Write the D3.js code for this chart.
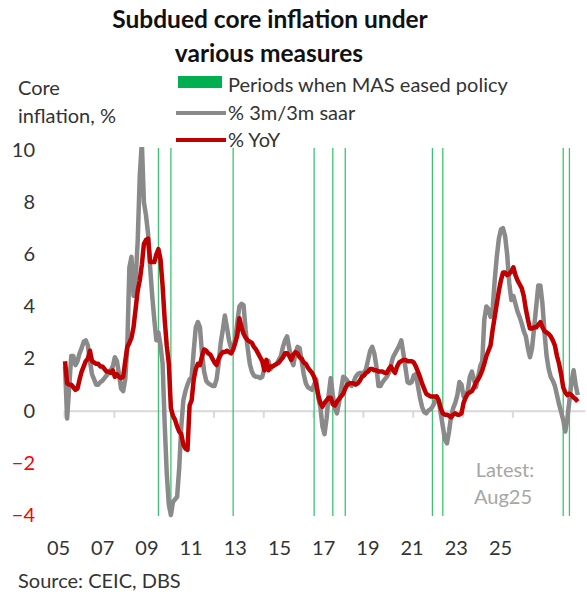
<!DOCTYPE html>
<html>
<head>
<meta charset="utf-8">
<script src="https://cdn.jsdelivr.net/npm/d3@7"></script>
<style>
  body { margin: 0; background: #fff; }
  svg { display: block; }
  text { font-family: "Lato", "Carlito", "Open Sans", sans-serif; fill: #333; }
  .title { font-weight: bold; font-size: 24.5px; fill: #111; }
  .lbl { font-size: 20px; }
  .axis text { font-size: 20px; }
</style>
</head>
<body>
<div id="chart"></div>
<script>
// monthly series, Jan 2005 .. Aug 2025
var startYear = 2005;

var yoy = [
  1.9, 1.05, 1.0, 1.0, 0.9, 0.8, 0.85, 1.2, 1.5, 1.7, 1.9, 2.0,
  2.3, 1.9, 1.85, 1.8, 1.8, 1.7, 1.7, 1.6, 1.5, 1.5, 1.45, 1.55,
  1.3, 1.4, 1.3, 1.25, 1.3, 1.9, 2.45, 2.6, 2.8, 3.2, 3.9, 4.6,
  5.0, 5.6, 6.4, 6.55, 6.6, 5.7, 5.7, 5.7, 6.0, 6.2, 5.8, 4.8,
  3.5, 2.5, 1.8, 0.1, -0.2, -0.35, -0.6, -0.8, -0.9, -1.3, -1.45, -1.5,
  0.2, 0.4, 1.2, 1.6, 1.8, 1.75, 2.1, 2.35, 2.3, 2.2, 2.15, 2.0,
  1.85, 1.75, 2.0, 2.15, 2.25, 2.25, 2.3, 2.25, 2.2, 2.35, 2.6, 2.9,
  3.55, 3.2, 2.95, 2.8, 2.7, 2.65, 2.6, 2.45, 2.35, 2.2, 2.05, 1.9,
  1.55, 1.95, 1.55, 1.7, 1.7, 1.75, 1.8, 1.85, 1.95, 2.05, 2.2, 2.2,
  2.1, 1.95, 2.15, 2.25, 2.2, 2.05, 2.0, 1.85, 1.8, 1.65, 1.55, 1.45,
  1.3, 1.0, 0.6, 0.3, 0.15, 0.3, 0.4, 0.5, 0.5, 0.25, 0.2, 0.35,
  0.45, 0.55, 0.65, 0.85, 1.0, 1.05, 1.05, 1.05, 1.0, 1.05, 1.15, 1.3,
  1.35, 1.45, 1.5, 1.6, 1.6, 1.55, 1.55, 1.5, 1.5, 1.5, 1.45, 1.45,
  1.6, 1.7, 1.55, 1.45, 1.7, 1.85, 1.9, 1.95, 1.95, 1.9, 1.9, 1.9,
  1.85, 1.7, 1.5, 1.3, 1.05, 0.85, 0.65, 0.6, 0.55, 0.55, 0.55, 0.55,
  0.4, 0.1, -0.1, -0.15, -0.15, -0.2, -0.25, -0.15, -0.1, -0.15, -0.15, -0.1,
  0.3, 0.5, 0.65, 0.7, 0.75, 0.9, 1.1, 1.2, 1.35, 1.55, 1.8, 2.1,
  2.3, 2.5, 3.1, 3.6, 4.1, 4.6, 5.0, 5.3, 5.3, 5.2, 5.25, 5.35,
  5.5, 5.2, 5.0, 4.85, 4.7, 4.4, 3.9, 3.5, 3.15, 3.15, 3.2, 3.2,
  3.3, 3.4, 3.2, 3.05, 3.0, 2.95, 2.85, 2.7, 2.5, 2.1, 1.8, 1.4,
  0.9, 0.7, 0.6, 0.65, 0.6, 0.5, 0.45, 0.35
];

var saar = [
  1.7, -0.3, 0.9, 2.1, 2.1, 1.75, 1.9, 2.2, 2.4, 2.65, 2.7, 2.5,
  1.9, 1.4, 1.2, 1.0, 1.0, 1.1, 1.15, 1.25, 1.35, 1.45, 1.55, 1.7,
  2.05, 1.9, 1.4, 0.85, 0.75, 1.2, 2.5, 5.5, 5.9, 4.4, 5.0, 6.5,
  9.0, 10.3, 8.0, 7.5, 6.8, 5.5, 4.4, 3.5, 2.7, 3.0, 2.5, 1.8,
  -0.5, -2.4, -3.6, -4.0, -3.5, -3.4, -3.3, -2.2, -0.6, 0.4, 0.75, 1.0,
  1.2, 1.3, 2.3, 3.2, 3.4, 3.2, 2.2, 1.5, 1.15, 1.05, 1.0, 0.95,
  0.95, 1.2, 1.8, 2.6, 3.1, 3.65, 3.2, 2.7, 2.4, 2.4, 2.7, 3.4,
  4.0, 4.1, 4.05, 3.1, 2.4, 1.8, 1.5, 1.35, 1.3, 1.3, 1.25, 1.3,
  1.6, 1.85, 1.9, 1.6, 1.7, 1.75, 1.8, 1.95, 2.1, 2.45, 2.7, 2.85,
  2.4, 1.95, 1.75, 2.2, 2.45, 2.4, 1.9, 1.4, 1.05, 0.9, 0.85, 0.8,
  1.0, 1.2, 0.5, 0.15, -0.6, -0.9, -0.3, 0.6, 1.25, 0.6, 0.1, -0.1,
  0.3, 0.8, 1.3, 1.25, 1.15, 1.0, 0.95, 1.1, 1.3, 1.4, 1.45, 1.45,
  1.45, 1.6, 1.95, 2.3, 2.45, 2.2, 1.7, 0.95, 0.95, 1.1, 1.2, 1.3,
  1.45, 1.75, 2.05, 2.2, 2.35, 2.5, 2.7, 2.2, 1.65, 1.1, 1.05, 1.1,
  1.35, 1.4, 0.95, 0.5, 0.15, -0.05, -0.1, 0.0, 0.05, 0.15, 0.3, 0.55,
  0.4, -0.1, -0.6, -1.1, -1.25, -0.8, -0.2, 0.1, 0.3, 0.6, 1.1, 1.0,
  0.55, 0.6, 0.75, 1.3, 1.5, 1.2, 0.9, 1.3, 1.7, 1.9, 3.5, 4.0,
  3.9, 3.6, 3.9, 5.0, 5.9, 6.6, 6.95, 7.0, 6.7, 6.0, 4.9, 4.25,
  4.4, 4.1, 3.8, 3.6, 3.35, 3.05, 2.85, 2.4, 2.05, 2.4, 3.2, 4.0,
  4.8, 4.8, 4.1, 3.0, 2.1, 1.6, 1.3, 1.15, 0.95, 0.6, 0.25, -0.05,
  -0.35, -0.8, -0.3, 0.4, 1.1, 1.55, 1.0, 0.6
];

// months when MAS eased policy
var easing = ["2008-10", "2009-04", "2011-10", "2015-01", "2015-10",
              "2016-04", "2019-10", "2020-03", "2025-01", "2025-04"];

var xLabels = ["05", "07", "09", "11", "13", "15", "17", "19", "21", "23", "25"];
var yTicks = [10, 8, 6, 4, 2, 0, -2, -4];

var width = 587, height = 595;

function monthIndex(s) {
  var p = s.split("-");
  return (+p[0] - startYear) * 12 + (+p[1] - 1);
}

var svg = d3.select("#chart").append("svg")
    .attr("width", width)
    .attr("height", height);

var x = d3.scaleLinear().domain([-0.5, 250.5]).range([64, 585]);
var y = d3.scaleLinear().domain([-4, 10]).range([515, 150]);

// title
svg.append("text").attr("class", "title")
    .attr("x", 270).attr("y", 28).attr("text-anchor", "middle")
    .text("Subdued core inflation under");
svg.append("text").attr("class", "title")
    .attr("x", 269).attr("y", 62).attr("text-anchor", "middle")
    .text("various measures");

// y axis title
svg.append("text").attr("class", "lbl").attr("x", 18).attr("y", 95).text("Core");
svg.append("text").attr("class", "lbl").attr("x", 18).attr("y", 123).text("inflation, %");

// legend
var legend = svg.append("g").attr("class", "legend");
legend.append("rect")
    .attr("x", 178).attr("y", 76).attr("width", 44).attr("height", 12)
    .style("fill", "#00B050");
legend.append("text").attr("class", "lbl")
    .attr("x", 228).attr("y", 92).text("Periods when MAS eased policy");
legend.append("line")
    .attr("x1", 176).attr("x2", 226).attr("y1", 113).attr("y2", 113)
    .style("stroke", "#8a8a8a").style("stroke-width", 4);
legend.append("text").attr("class", "lbl")
    .attr("x", 228).attr("y", 120).text("% 3m/3m saar");
legend.append("line")
    .attr("x1", 176).attr("x2", 226).attr("y1", 140).attr("y2", 140)
    .style("stroke", "#C00000").style("stroke-width", 4);
legend.append("text").attr("class", "lbl")
    .attr("x", 228).attr("y", 147).text("% YoY");

// y axis labels
var y_axis = d3.axisLeft(y).tickValues(yTicks).tickSize(0).tickPadding(3)
    .tickFormat(d3.format("d"));
svg.append("g")
    .attr("class", "axis")
    .attr("transform", "translate(38,0)")
    .call(y_axis)
    .call(function(g) { g.select(".domain").remove(); })
    .selectAll("text")
        .style("fill", function(d) { return d < 0 ? "#FF0000" : "#333"; });

// zero line with tick marks every two years
var tickVals = d3.range(0, 11).map(function(k) { return k * 24 - 0.5; });
var x_axis = d3.axisBottom(x).tickValues(tickVals).tickFormat("")
    .tickSize(7).tickSizeOuter(0);
var zeroAxis = svg.append("g")
    .attr("class", "axis")
    .attr("transform", "translate(0," + y(0) + ")")
    .call(x_axis);
zeroAxis.select(".domain").style("stroke", "#d9d9d9").style("stroke-width", 2);
zeroAxis.selectAll(".tick line").style("stroke", "#d9d9d9").style("stroke-width", 2);

// x labels as they sit under the chart
var xl = d3.scalePoint().domain(xLabels).range([58, 500]);
svg.append("g")
    .attr("class", "axis")
    .attr("transform", "translate(0,538)")
    .call(d3.axisBottom(xl).tickSize(0).tickPadding(3))
    .call(function(g) { g.select(".domain").remove(); });

// easing lines
svg.append("g").selectAll("line")
    .data(easing).enter()
    .append("line")
        .attr("x1", function(d) { return x(monthIndex(d)); })
        .attr("x2", function(d) { return x(monthIndex(d)); })
        .attr("y1", y(10) - 2)
        .attr("y2", y(-4) + 1)
        .style("stroke", "#3ac471")
        .style("stroke-width", 1.3);

// clip for the lines
svg.append("clipPath").attr("id", "plotclip")
  .append("rect")
    .attr("x", 0).attr("y", y(10) - 3)
    .attr("width", width).attr("height", y(-4) - y(10) + 10);

var line = d3.line()
    .x(function(d, i) { return x(i); })
    .y(function(d) { return y(d); });

svg.append("path")
    .datum(saar)
    .attr("clip-path", "url(#plotclip)")
    .attr("d", line)
    .style("fill", "none")
    .style("stroke", "#8a8a8a")
    .style("stroke-width", 4.5)
    .style("stroke-linejoin", "round");

svg.append("path")
    .datum(yoy)
    .attr("d", line)
    .style("fill", "none")
    .style("stroke", "#C00000")
    .style("stroke-width", 4.5)
    .style("stroke-linejoin", "round");

// latest note
svg.append("text").attr("class", "lbl")
    .attr("x", 505).attr("y", 477).attr("text-anchor", "middle")
    .style("fill", "#a6a6a6").text("Latest:");
svg.append("text").attr("class", "lbl")
    .attr("x", 503).attr("y", 504).attr("text-anchor", "middle")
    .style("fill", "#a6a6a6").text("Aug25");

// source
svg.append("text").attr("class", "lbl")
    .attr("x", 18).attr("y", 588).text("Source: CEIC, DBS");
</script>
</body>
</html>
